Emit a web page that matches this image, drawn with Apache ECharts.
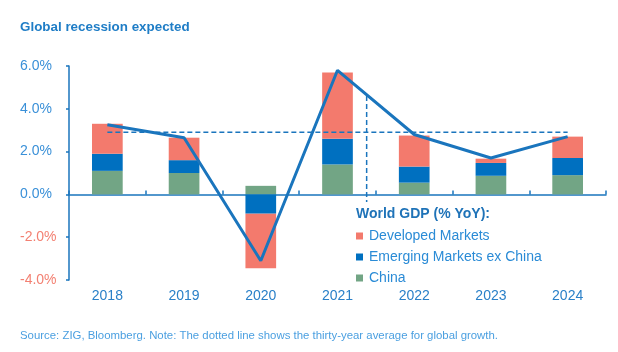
<!DOCTYPE html>
<html>
<head>
<meta charset="utf-8">
<script src="https://cdn.jsdelivr.net/npm/echarts@6/dist/echarts.min.js"></script>
<style>
  html, body { margin: 0; padding: 0; background: #fff; }
  #chart { width: 618px; height: 352px; }
</style>
</head>
<body>
<div id="chart"></div>
<script>
// data
const years = ['2018', '2019', '2020', '2021', '2022', '2023', '2024'];
const china = [1.1, 1.0, 0.4, 1.4, 0.55, 0.87, 0.9];
const emergingExChina = [0.8, 0.6, -0.9, 1.2, 0.75, 0.6, 0.8];
const developed = [1.4, 1.05, -2.55, 3.1, 1.45, 0.2, 1.0];
const worldGdp = [3.25, 2.65, -3.1, 5.8, 2.8, 1.7, 2.7];
const longRunAvg = [2.9, 2.9, 2.9, 2.9, 2.9, 2.9, 2.9];
// vertical dashed marker (position on a hidden 0..7 axis, y from / to)
const forecastMarker = [[3.88, 4.6], [3.88, -0.36]];
const yTicks = { min: -4, max: 6, interval: 2 };

const BLUE = '#1a75bd';
const RED = '#f37a6d';
const DARK_BLUE = '#0070c0';
const GREEN = '#72a585';
const FONT = 'Liberation Sans';

const chart = echarts.init(document.getElementById('chart'));

chart.setOption({
  animation: false,
  textStyle: { fontFamily: FONT },
  graphic: [
    {
      type: 'text', left: 20, top: 21,
      style: { text: 'Global recession expected', fill: '#1f7dc6', font: `bold 13.4px "${FONT}"` },
    },
    {
      type: 'text', left: 356, top: 207,
      style: { text: 'World GDP (% YoY):', fill: '#1f73b8', font: `bold 14px "${FONT}"` },
    },
    {
      type: 'text', left: 20, top: 330,
      style: {
        text: 'Source: ZIG, Bloomberg. Note: The dotted line shows the thirty-year average for global growth.',
        fill: '#4a9fe0', font: `11.4px "${FONT}"`,
      },
    },
  ],
  legend: {
    data: ['Developed Markets', 'Emerging Markets ex China', 'China'],
    orient: 'vertical',
    left: 356, top: 229,
    padding: 0,
    icon: 'rect',
    itemWidth: 7, itemHeight: 7,
    itemGap: 7,
    textStyle: { color: '#2a8bd6', fontSize: 14, lineHeight: 14, padding: [0, 0, 0, 1] },
  },
  grid: { left: 69, right: 12, top: 66, bottom: 72 },
  xAxis: [
    {
      type: 'category', data: years,
      axisLine: { show: false, onZero: false },
      axisTick: { show: false },
      axisLabel: { color: '#2a80c8', fontSize: 14, margin: 9 },
    },
    {
      type: 'category', data: years,
      axisLine: { onZero: true, lineStyle: { color: BLUE, width: 1.5 } },
      axisTick: { show: true, length: 4, lineStyle: { color: BLUE, width: 1.5 } },
      axisLabel: { show: false },
    },
    { type: 'value', min: 0, max: 7, show: false },
  ],
  yAxis: {
    type: 'value', ...yTicks,
    splitLine: { show: false },
    axisLine: { show: true, lineStyle: { color: BLUE, width: 1.5 } },
    axisTick: { show: true, length: 3, lineStyle: { color: BLUE, width: 1.5 } },
    axisLabel: {
      fontSize: 14, align: 'left', margin: 49,
      formatter: v => v.toFixed(1) + '%',
      color: v => (Number(v) < 0 ? '#f38072' : '#3a90d8'),
    },
  },
  series: [
    {
      name: 'China', type: 'bar', stack: 'gdp', data: china, barWidth: '40%',
      itemStyle: { color: GREEN },
    },
    {
      name: 'Emerging Markets ex China', type: 'bar', stack: 'gdp', data: emergingExChina,
      itemStyle: { color: DARK_BLUE },
    },
    {
      name: 'Developed Markets', type: 'bar', stack: 'gdp', data: developed,
      itemStyle: { color: RED },
    },
    {
      name: 'Average', type: 'line', data: longRunAvg, showSymbol: false,
      lineStyle: { color: BLUE, width: 1.5, type: [5, 3] }, z: 3,
    },
    {
      name: 'Forecast', type: 'line', xAxisIndex: 2, data: forecastMarker, showSymbol: false,
      lineStyle: { color: BLUE, width: 1.5, type: [5, 3] }, z: 3,
    },
    {
      name: 'World GDP', type: 'line', data: worldGdp, showSymbol: false,
      lineStyle: { color: BLUE, width: 3 }, z: 4,
    },
  ],
});
</script>
</body>
</html>
